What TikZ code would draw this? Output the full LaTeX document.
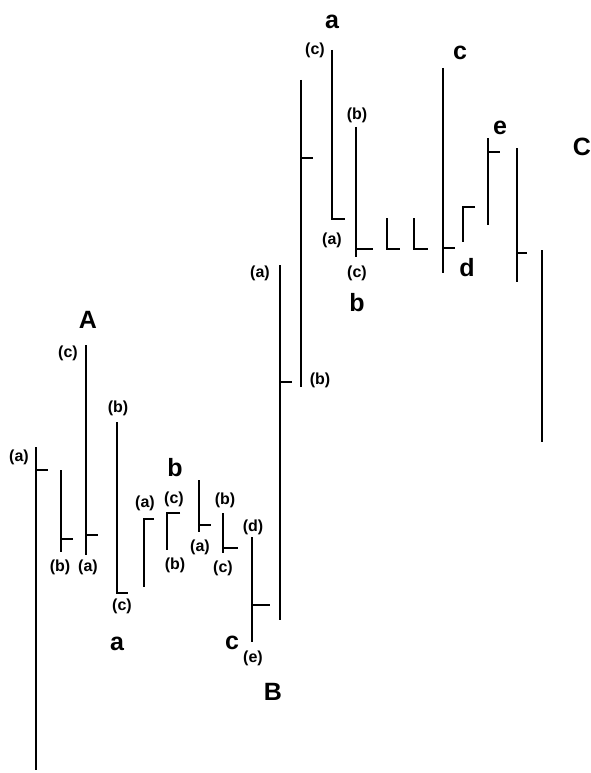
\documentclass[tikz,border=0pt]{standalone}
\usepackage{fontspec}
\setmainfont{Liberation Sans}
\begin{document}
\begin{tikzpicture}[x=1pt,y=-1pt,
  bar/.style={line width=2pt,line cap=butt,line join=miter},
  lab/.style={font=\fontsize{16}{16}\selectfont\bfseries,inner sep=0pt},
  big/.style={font=\fontsize{25}{25}\selectfont\bfseries,inner sep=0pt}]
\useasboundingbox (0,0) rectangle (591,773);
% ---- group A ----
\draw[bar] (36,447) -- (36,770); \draw[bar] (36,470) -- (48,470);
\draw[bar] (61,470) -- (61,552); \draw[bar] (61,539) -- (73,539);
\draw[bar] (86,345) -- (86,555); \draw[bar] (86,535) -- (98,535);
\draw[bar] (117,422) -- (117,593) -- (128,593);
\node[lab] (a1) at (19,457) {(a)};
\node[lab] (b1) at (60,567) {(b)};
\node[lab] (c1) at (68,353) {(c)};
\node[lab] (a2) at (88,567) {(a)};
\node[lab] (b2) at (118,408) {(b)};
\node[lab] (c2) at (122,606) {(c)};
\node[big] (A) at (88,320) {A};
\node[big] (la) at (117,644) {a};
% ---- group b ----
\draw[bar] (154,519) -- (144,519) -- (144,587);
\draw[bar] (180,513) -- (167,513) -- (167,550);
\draw[bar] (199,480) -- (199,532); \draw[bar] (199,525) -- (211,525);
\draw[bar] (223,513) -- (223,553); \draw[bar] (223,548) -- (238,548);
\draw[bar] (252,537) -- (252,642); \draw[bar] (252,605) -- (270,605);
\draw[bar] (280,265) -- (280,620); \draw[bar] (280,382) -- (292,382);
\draw[bar] (301,80) -- (301,387); \draw[bar] (301,158) -- (313,158);
\node[lab] (a3) at (145,503) {(a)};
\node[lab] (c3) at (174,499) {(c)};
\node[lab] (b3) at (175,565) {(b)};
\node[big] (lb) at (175,468) {b};
\node[lab] (a4) at (200,547) {(a)};
\node[lab] (b4) at (225,500) {(b)};
\node[lab] (c4) at (223,568) {(c)};
\node[lab] (d4) at (253,527) {(d)};
\node[lab] (e4) at (253,658) {(e)};
\node[big] (lc) at (232,643) {c};
\node[lab] (a5) at (260,273) {(a)};
\node[lab] (b5) at (320,380) {(b)};
\node[big] (B) at (273,692) {B};
% ---- group C ----
\draw[bar] (332,50) -- (332,219) -- (345,219);
\draw[bar] (356,127) -- (356,257); \draw[bar] (356,249) -- (373,249);
\draw[bar] (387,218) -- (387,249) -- (400,249);
\draw[bar] (414,218) -- (414,249) -- (428,249);
\draw[bar] (443,68) -- (443,273); \draw[bar] (443,248) -- (455,248);
\draw[bar] (475,207) -- (463,207) -- (463,242);
\draw[bar] (488,138) -- (488,225); \draw[bar] (488,152) -- (500,152);
\draw[bar] (517,148) -- (517,282); \draw[bar] (517,253) -- (527,253);
\draw[bar] (542,250) -- (542,442);
\node[lab] (c6) at (315,50) {(c)};
\node[lab] (a6) at (332,240) {(a)};
\node[big] (ua) at (332,22) {a};
\node[lab] (b7) at (357,115) {(b)};
\node[lab] (c7) at (357,273) {(c)};
\node[big] (ub) at (357,303) {b};
\node[big] (uc) at (460,53) {c};
\node[big] (ud) at (467,268) {d};
\node[big] (ue) at (500,128) {e};
\node[big] (C) at (582,147) {C};
\end{tikzpicture}
\end{document}
